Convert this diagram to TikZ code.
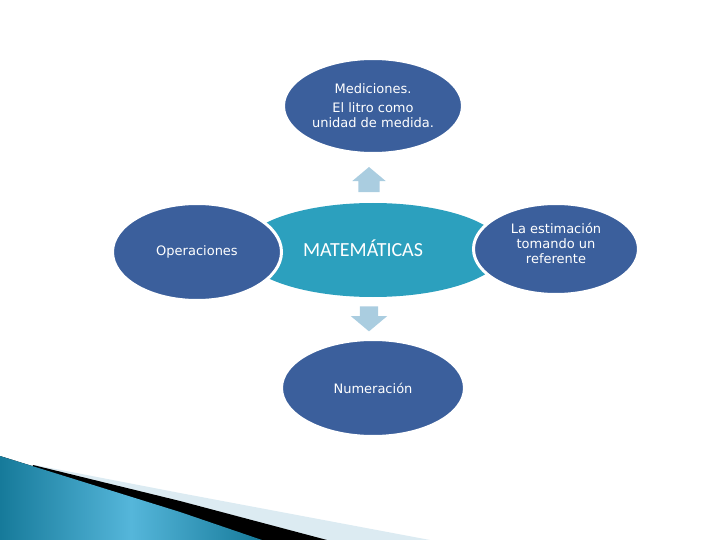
\documentclass[tikz,border=0pt]{standalone}
\usepackage{fontspec}
\setmainfont{DejaVu Sans}
\newfontfamily\carlito{Carlito}
\usetikzlibrary{shapes.geometric,shapes.arrows,positioning}
\definecolor{ellblue}{HTML}{3B5F9C}
\definecolor{mathteal}{HTML}{2CA0BE}
\definecolor{arrblue}{HTML}{AACDE0}
\definecolor{swoopdark}{HTML}{167A9A}
\definecolor{swooplight}{HTML}{55B6DA}
\definecolor{swoopband}{HTML}{DCEBF2}
\tikzset{
  topic/.style={ellipse, fill=ellblue, draw=white, line width=3pt, inner sep=0pt,
    text=white, align=center, font=\fontsize{13}{15}\selectfont},
  blockarr/.style={single arrow, fill=arrblue,
    single arrow tip angle=100, minimum height=25pt},
}

\begin{document}
\begin{tikzpicture}[x=1pt,y=-1pt]
  \useasboundingbox (0,0) rectangle (720,540);
  % swoosh, bottom left
  \fill[swoopband] (35,465) -- (180,493) -- (430,540) -- (0,540) -- cycle;
  \fill[black] (33,465) -- (180,501) -- (327,540) -- (0,540) -- cycle;
  \fill[left color=swoopdark, right color=swoopdark, middle color=swooplight]
    (0,456) -- (180,512) -- (262,540) -- (0,540) -- cycle;
  % centre shape
  \node[ellipse, fill=mathteal, minimum width=262pt, minimum height=94pt] (math) at (373,250) {};
  \node[text=white, font=\carlito\fontsize{20}{24}\selectfont] (mathlbl) at (363,248) {MATEMÁTICAS};
  % outer topics
  \node[topic, minimum width=179pt, minimum height=95pt] (med) at (373,106)
    {Mediciones.\\[4pt]El litro como\\unidad de medida.};
  \node[topic, minimum width=169pt, minimum height=97pt] (ope) at (197,252) {Operaciones};
  \node[topic, minimum width=165pt, minimum height=91pt] (est) at (556,249)
    {La estimación\\tomando un\\referente\\[-3pt]};
  \node[topic, minimum width=183pt, minimum height=97pt] (num) at (373,388) {Numeración};
  % block arrows
  \node[blockarr, shape border rotate=90, inner xsep=10.5pt, inner ysep=0pt,
    single arrow head extend=6pt] (upArr) at (369,184) {};
  \node[blockarr, shape border rotate=270, inner xsep=9pt, inner ysep=0pt,
    single arrow head extend=9pt] (downArr) at (369,315) {};
\end{tikzpicture}
\end{document}
